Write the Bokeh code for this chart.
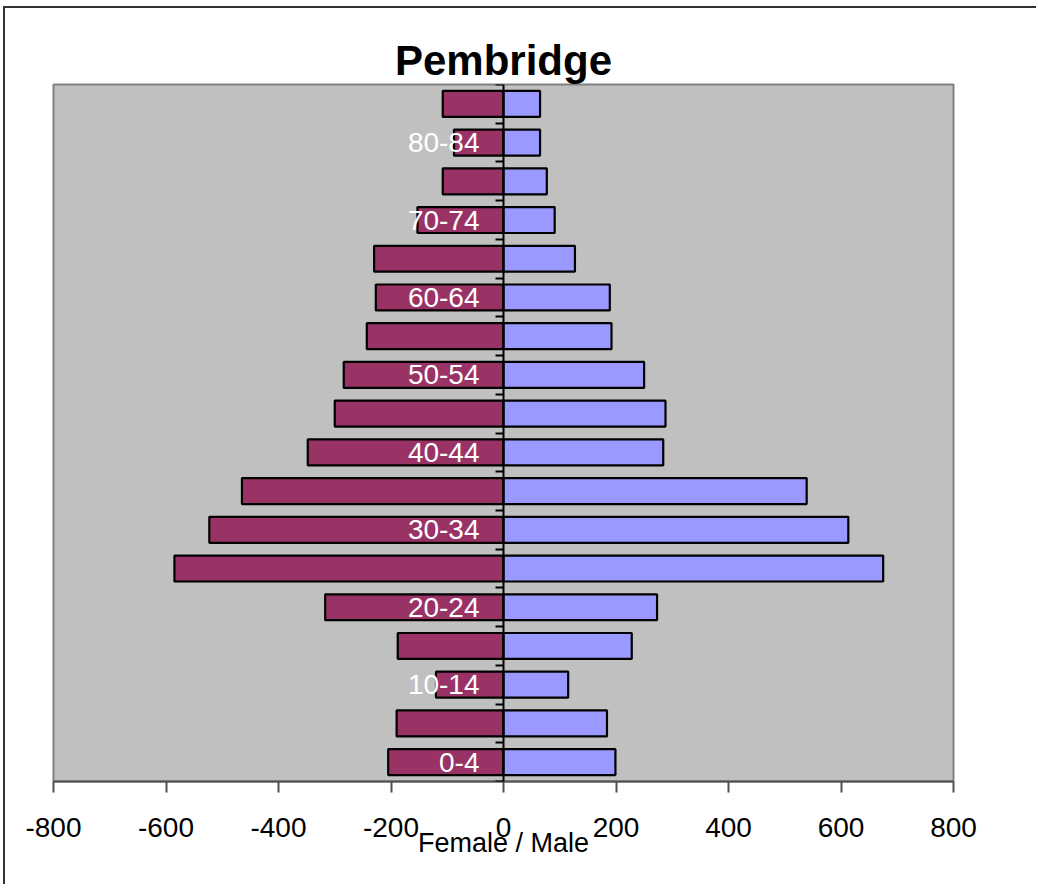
from bokeh.plotting import figure
from bokeh.models import Range1d, LinearAxis, FixedTicker
from bokeh.embed import file_html
from bokeh.resources import INLINE

# ---- data ----
categories = ["0-4", "5-9", "10-14", "15-19", "20-24", "25-29", "30-34", "35-39",
              "40-44", "45-49", "50-54", "55-59", "60-64", "65-69", "70-74",
              "75-79", "80-84", "85+"]
female = [205, 190, 120, 188, 317, 585, 523, 465, 348, 300, 284, 243, 227, 230,
          153, 108, 88, 108]
male = [199, 184, 115, 228, 273, 675, 613, 539, 284, 288, 250, 192, 189, 127,
        91, 77, 65, 65]
x_ticks = [-800, -600, -400, -200, 0, 200, 400, 600, 800]
title_text = "Pembridge"
x_title = "Female / Male"

FONT = "Liberation Sans"
idx = list(range(len(categories)))
female_neg = [-v for v in female]

p = figure(width=1033, height=878, output_backend="svg", toolbar_location=None,
           x_range=Range1d(-800, 800), y_range=Range1d(-0.5, len(categories) - 0.5),
           y_axis_location=None, min_border_left=48, min_border_right=85,
           min_border_top=76, min_border_bottom=105,
           styles={"border-top": "2px solid #333333", "border-left": "2px solid #333333",
                   "margin-top": "6px", "margin-left": "3px"})

p.background_fill_color = "#C0C0C0"
p.border_fill_color = "white"
p.outline_line_color = "#808080"
p.outline_line_width = 2
p.xgrid.visible = False
p.ygrid.visible = False

# title
p.title.text = title_text
p.title.align = "center"
p.title.text_font = FONT
p.title.text_font_size = "42px"
p.title.text_font_style = "bold"
p.title.text_color = "black"
p.title.standoff = 2

# bars
p.hbar(y=idx, left=female_neg, right=0, height=0.67,
       fill_color="#993366", line_color="black", line_width=2.2)
p.hbar(y=idx, left=0, right=male, height=0.67,
       fill_color="#9999FF", line_color="black", line_width=2.2)

# x axis
xa = p.xaxis[0]
xa.ticker = FixedTicker(ticks=x_ticks)
xa.major_label_overrides = {v: str(v) for v in x_ticks}
xa.major_tick_out = 11
xa.major_tick_in = 0
xa.minor_tick_out = 0
xa.minor_tick_in = 0
xa.axis_line_color = "#505050"
xa.axis_line_width = 2
xa.major_tick_line_color = "#505050"
xa.major_tick_line_width = 2
xa.major_label_text_font = FONT
xa.major_label_text_font_size = "28px"
xa.major_label_text_color = "black"
xa.major_label_standoff = 25
xa.axis_label = x_title
xa.axis_label_text_font = FONT
xa.axis_label_text_font_size = "27px"
xa.axis_label_text_font_style = "normal"
xa.axis_label_text_color = "black"
xa.axis_label_standoff = -12

# category axis crossing at zero
major = [i for i in idx if i % 2 == 0 and i < len(categories) - 1]
boundaries = [i - 0.5 for i in idx] + [len(categories) - 0.5]
ya = LinearAxis(fixed_location=0,
                ticker=FixedTicker(ticks=major, minor_ticks=boundaries),
                major_label_overrides={i: categories[i] for i in major})
ya.axis_line_color = "black"
ya.axis_line_width = 2
ya.major_tick_out = 0
ya.major_tick_in = 0
ya.minor_tick_out = 8
ya.minor_tick_in = 0
ya.minor_tick_line_color = "black"
ya.minor_tick_line_width = 2
ya.major_label_text_font = FONT
ya.major_label_text_font_size = "28px"
ya.major_label_text_color = "white"
ya.major_label_standoff = 16
p.add_layout(ya, "left")

open("out.html", "w").write(file_html(p, INLINE))
